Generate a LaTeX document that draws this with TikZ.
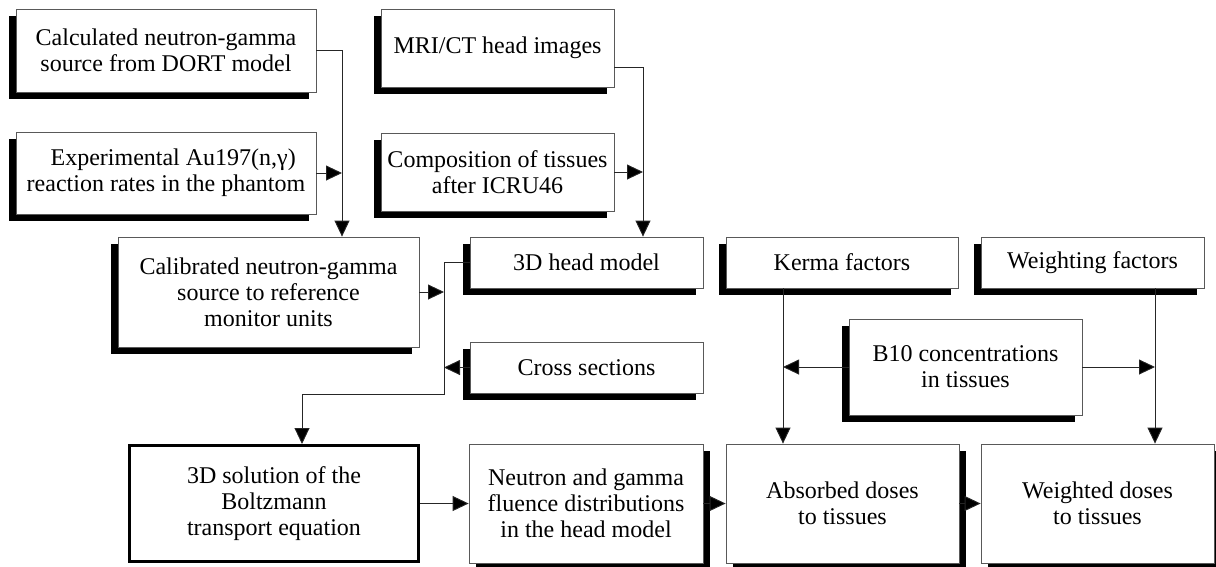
\documentclass[tikz,border=0pt]{standalone}
\usepackage{fontspec}
\setmainfont{Liberation Serif}
\usetikzlibrary{arrows.meta,shadows}

\tikzset{
  box/.style={draw=black!65, line width=0.8pt, fill=white, inner sep=0pt, align=center,
    font=\fontsize{24}{26}\selectfont},
  lbox/.style={box, drop shadow={shadow xshift=-7pt, shadow yshift=-7pt, fill=black, opacity=1}},
  rbox/.style={box, drop shadow={shadow xshift=7pt, shadow yshift=-7pt, fill=black, opacity=1}},
  ln/.style={draw=black!85, line width=0.9pt},
  arr/.style={ln, -{Triangle[length=16pt,width=15pt,fill=black]}},
}

\begin{document}
\begin{tikzpicture}[x=1pt,y=-1pt]
\useasboundingbox (0,0) rectangle (1216,566);

% sources
\node[lbox, minimum width=300, minimum height=83] (calc) at (166,50.5) {Calculated neutron-gamma\\source from DORT model};
\node[lbox, minimum width=300, minimum height=82] (exper) at (166,173) {\hspace*{0.6em}Experimental Au197(n,γ)\\reaction rates in the phantom};
\node[lbox, minimum width=233, minimum height=78] (mri) at (497.5,48) {MRI/CT head images};
\node[lbox, minimum width=233, minimum height=78] (comp) at (497.5,172) {Composition of tissues\\after ICRU46};

% middle row
\node[lbox, minimum width=301, minimum height=110] (calib) at (268.5,292) {Calibrated neutron-gamma\\source to reference\\monitor units};
\node[lbox, minimum width=233, minimum height=51] (head) at (586.5,262.5) {3D head model};
\node[lbox, minimum width=233, minimum height=51] (cross) at (586.5,367.5) {Cross sections};
\node[lbox, minimum width=232, minimum height=51] (kerma) at (842,262.5) {Kerma factors};
\node[lbox, minimum width=223, minimum height=51] (weight) at (1092.5,262.5) {Weighting factors};
\node[lbox, minimum width=233, minimum height=96] (b10) at (965.5,367) {B10 concentrations\\in tissues};

% results
\node[box, draw=black, line width=3pt, minimum width=289, minimum height=116] (solve) at (274,503.5) {3D solution of the\\Boltzmann\\transport equation};
\node[rbox, minimum width=234, minimum height=119] (fluence) at (586,503.5) {Neutron and gamma\\fluence distributions\\in the head model};
\node[rbox, minimum width=233, minimum height=119] (absorb) at (842.5,503.5) {Absorbed doses\\to tissues};
\node[rbox, minimum width=233, minimum height=119] (wdose) at (1097.5,503.5) {Weighted doses\\to tissues};

% bus lines
\coordinate (busA) at (342,0);
\coordinate (busB) at (643,0);
\coordinate (busC) at (444,0);
\coordinate (busD) at (783,0);
\coordinate (busE) at (1155,0);

\draw[arr] (calc.east) -| (busA |- calib.north);
\draw[arr] (exper.east) -- (busA |- exper.east);
\draw[arr] ([yshift=-19pt]mri.east) -| (busB |- head.north);
\draw[arr] (comp.east) -- (busB |- comp.east);

\draw[arr] (calib.east) -- (busC |- calib.east);
\draw[arr] (head.west) -| (busC |- 0,394) -| ([xshift=28pt]solve.north);
\draw[arr] (cross.west) -- (busC |- cross.west);

\draw[arr] (busD |- kerma.south) -- (busD |- absorb.north);
\draw[arr] (b10.west) -- (busD |- b10.west);
\draw[arr] (b10.east) -- (busE |- b10.east);
\draw[arr] (busE |- weight.south) -- (busE |- wdose.north);

\draw[arr] (solve.east) -- (fluence.west);
\draw[arr] (fluence.east) -- (absorb.west);
\draw[arr] (absorb.east) -- (wdose.west);

\end{tikzpicture}
\end{document}
